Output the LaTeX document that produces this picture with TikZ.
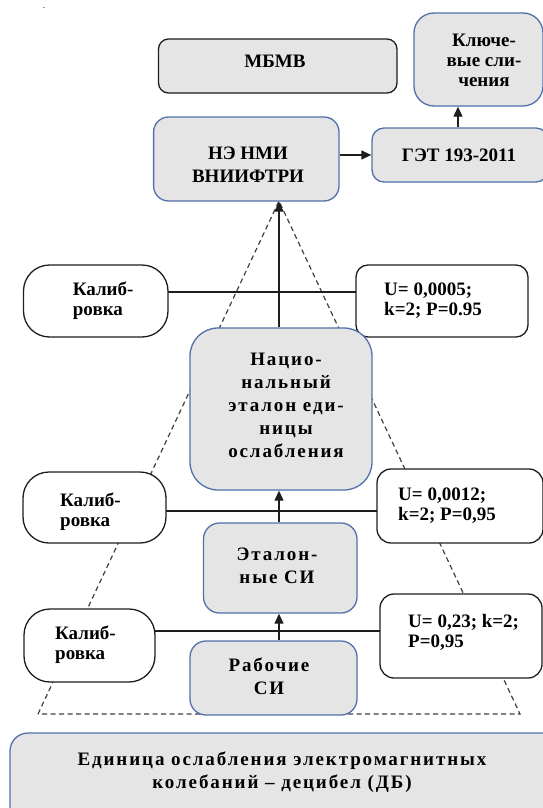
\documentclass[tikz,border=0pt]{standalone}
\usepackage{fontspec}
\setmainfont{Liberation Serif}[BoldFont={Liberation Serif Bold}]
\newfontfamily\spfont{Liberation Serif}[BoldFont={Liberation Serif Bold},LetterSpace=10]
\usetikzlibrary{arrows.meta,backgrounds}
\definecolor{egray}{RGB}{229,229,229}
\definecolor{eblue}{RGB}{82,112,170}
\definecolor{edark}{RGB}{30,30,30}
\tikzset{
 gbox/.style={draw=eblue, fill=egray, line width=1.3pt, inner sep=0pt},
 kbox/.style={draw=edark, fill=white, line width=1.3pt, inner sep=0pt},
 tc/.style={font=\rmfamily\bfseries\fontsize{19}{23}\selectfont, align=center, inner sep=0pt},
 tcs/.style={font=\spfont\bfseries\fontsize{19}{23}\selectfont, align=center, inner sep=0pt},
 tk/.style={font=\rmfamily\bfseries\fontsize{19}{20}\selectfont, align=center, inner sep=0pt},
 tl/.style={font=\rmfamily\bfseries\fontsize{19}{20}\selectfont, align=left, inner sep=0pt, anchor=west},
 link/.style={draw=edark, line width=1.3pt},
 arr/.style={link, -{Triangle[length=10pt,width=9pt]}},
 tri/.style={draw=edark!85, line width=1.2pt, dash pattern=on 5pt off 3.5pt},
}
\begin{document}
\begin{tikzpicture}[x=1pt,y=-1pt]
\useasboundingbox (0,0) rectangle (543,808);
\clip (0,0) rectangle (543,808);
% helper coordinates
\coordinate (apex) at (279,201);
\coordinate (bl) at (38,714);
\coordinate (br) at (520,714);
\coordinate (ax) at (279,0);
\coordinate (kx) at (458,0);
\coordinate (hy) at (0,155);
\coordinate (h1) at (0,292);
\coordinate (h2) at (0,511);
\coordinate (h3) at (0,631);
% boxes
\node[kbox, fill=egray, rounded corners=10pt, minimum width=238.5pt, minimum height=54pt] (mbmv) at (277.75,66) {};
\node[gbox, rounded corners=20pt, minimum width=129pt, minimum height=93pt] (kl) at (478.5,59.5) {};
\node[gbox, rounded corners=15pt, minimum width=185.4pt, minimum height=84pt] (ne) at (246.3,159) {};
\node[gbox, rounded corners=12pt, minimum width=176pt, minimum height=54pt] (get) at (460,155) {};
\node[kbox, rounded corners=26pt, minimum width=144.5pt, minimum height=72pt] (kal1) at (95.75,301) {};
\node[kbox, rounded corners=12pt, minimum width=172pt, minimum height=72pt] (u1) at (442,301) {};
\node[gbox, rounded corners=28pt, minimum width=182pt, minimum height=162pt] (nat) at (281,409) {};
\node[kbox, rounded corners=26pt, minimum width=143pt, minimum height=71pt] (kal2) at (94.5,507.5) {};
\node[kbox, rounded corners=14pt, minimum width=166pt, minimum height=74pt] (u2) at (460,506) {};
\node[gbox, rounded corners=16pt, minimum width=153.5pt, minimum height=90pt] (etal) at (280.25,568) {};
\node[kbox, rounded corners=26pt, minimum width=131pt, minimum height=73pt] (kal3) at (89.5,645.5) {};
\node[kbox, rounded corners=14pt, minimum width=162pt, minimum height=84pt] (u3) at (461,636) {};
\node[gbox, rounded corners=16pt, minimum width=167pt, minimum height=74pt] (rab) at (273.5,678) {};
\node[gbox, rounded corners=18pt, minimum width=560pt, minimum height=100pt] (unit) at (290,783) {};
% background: pyramid and calibration lines
\begin{pgfonlayer}{background}
\draw[tri] (bl) -- (apex) -- (br) -- cycle;
\draw[link] (kal1.center |- h1) -- (u1.center |- h1);
\draw[link] (kal2.center |- h2) -- (u2.center |- h2);
\draw[link] (kal3.center |- h3) -- (u3.center |- h3);
\end{pgfonlayer}
% arrows
\draw[arr] (ne.east |- hy) -- (get.west |- hy);
\draw[arr] (get.north -| kx) -- (kl.south -| kx);
\draw[arr] (nat.north -| ax) -- (ne.south -| ax);
\draw[arr] (etal.north -| ax) -- (nat.south -| ax);
\draw[arr] (rab.north -| ax) -- (etal.south -| ax);
% texts
\node[font=\fontsize{9}{10}\selectfont, inner sep=0pt, anchor=base] (dot) at (44,9) {.};
\node[tc] (t-mbmv) at (275,61.5) {МБМВ};
\node[tk] (t-kl) at (484,60) {Ключе-\\вые сли-\\чения};
\node[tc] (t-ne) at (248,164.5) {НЭ НМИ\\ВНИИФТРИ};
\node[tc] (t-get) at (459,155) {ГЭТ 193-2011};
\node[tl] (t-kal1) at (72.7,301) {Калиб-\\ровка};
\node[tl] (t-u1) at (384,301) {U= 0,0005;\\k=2; P=0.95};
\node[tcs] (t-nat) at (286,405) {Нацио-\\нальный\\эталон еди-\\ницы\\ослабления};
\node[tl] (t-kal2) at (60,512) {Калиб-\\ровка};
\node[tl] (t-u2) at (398,506) {U= 0,0012;\\k=2; P=0,95};
\node[tcs] (t-etal) at (277,566) {Эталон-\\ные СИ};
\node[tl] (t-kal3) at (55,645) {Калиб-\\ровка};
\node[tl] (t-u3) at (408,632) {U= 0,23; k=2;\\P=0,95};
\node[tcs] (t-rab) at (269,676) {Рабочие\\СИ};
\node[tcs] (t-unit) at (282,772) {Единица ослабления электромагнитных\\колебаний – децибел (ДБ)};
\end{tikzpicture}
\end{document}
